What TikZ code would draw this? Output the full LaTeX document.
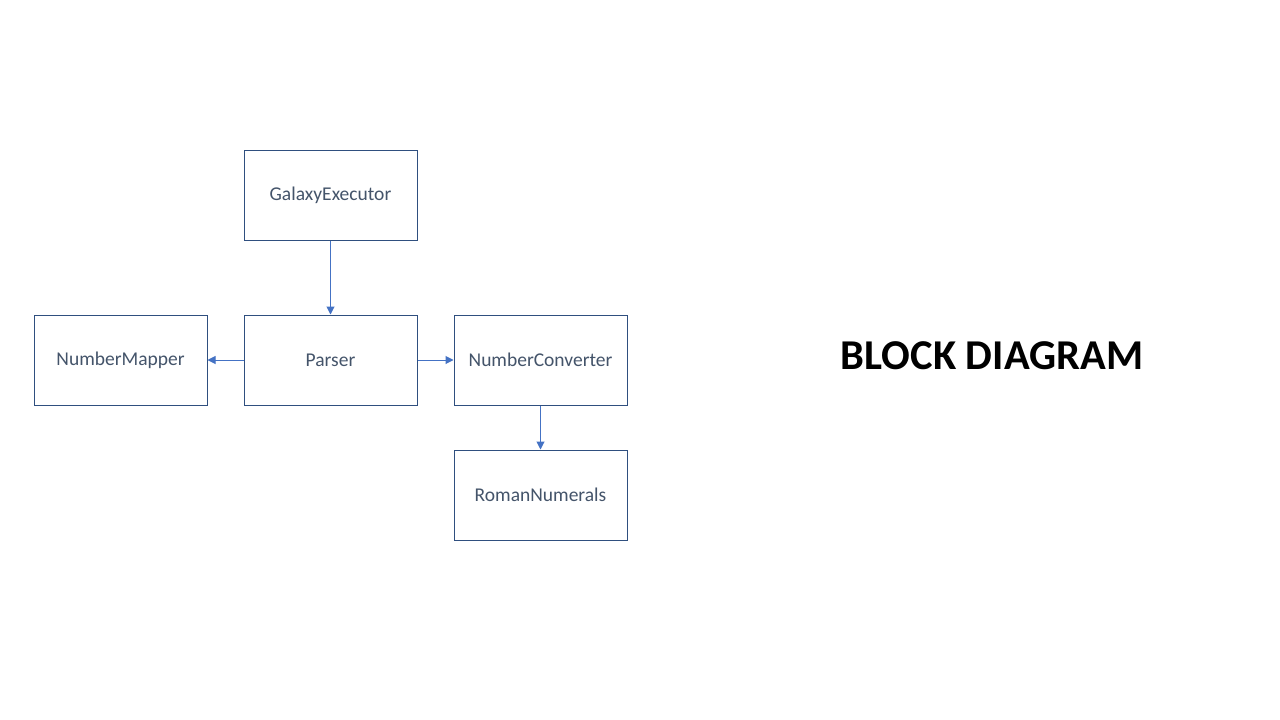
\documentclass[tikz,border=0pt]{standalone}
\usepackage{fontspec}
\setmainfont{Carlito}
\usetikzlibrary{arrows.meta}
\definecolor{boxline}{HTML}{2F4F7F}
\definecolor{boxtext}{HTML}{44546A}
\definecolor{arrowc}{HTML}{4472C4}
\begin{document}
\begin{tikzpicture}[x=1pt,y=-1pt,
  blockbox/.style={draw=boxline, line width=1pt, minimum width=173pt, minimum height=90pt, inner sep=0pt, anchor=center, text=boxtext, font=\fontsize{19.5}{23}\selectfont},
  conn/.style={draw=arrowc, line width=1pt, -{Triangle[length=8pt,width=8pt]}}]
\useasboundingbox (0,0) rectangle (1280,720);
\fill[white] (0,0) rectangle (1280,720);
\node[blockbox] (galaxy) at (330.5,195) {GalaxyExecutor};
\node[blockbox] (parser) at (330.5,360) {Parser};
\node[blockbox] (mapper) at (120.5,360) {NumberMapper};
\node[blockbox] (converter) at (540.5,360) {NumberConverter};
\node[blockbox] (roman) at (540.5,495) {RomanNumerals};
\node[font=\fontsize{42.5}{50}\selectfont\bfseries, text=black] (title) at (992,356) {BLOCK DIAGRAM};
\draw[conn] (galaxy) -- (parser);
\draw[conn] (parser) -- (mapper);
\draw[conn] (parser) -- (converter);
\draw[conn] (converter) -- (roman);
\end{tikzpicture}
\end{document}
